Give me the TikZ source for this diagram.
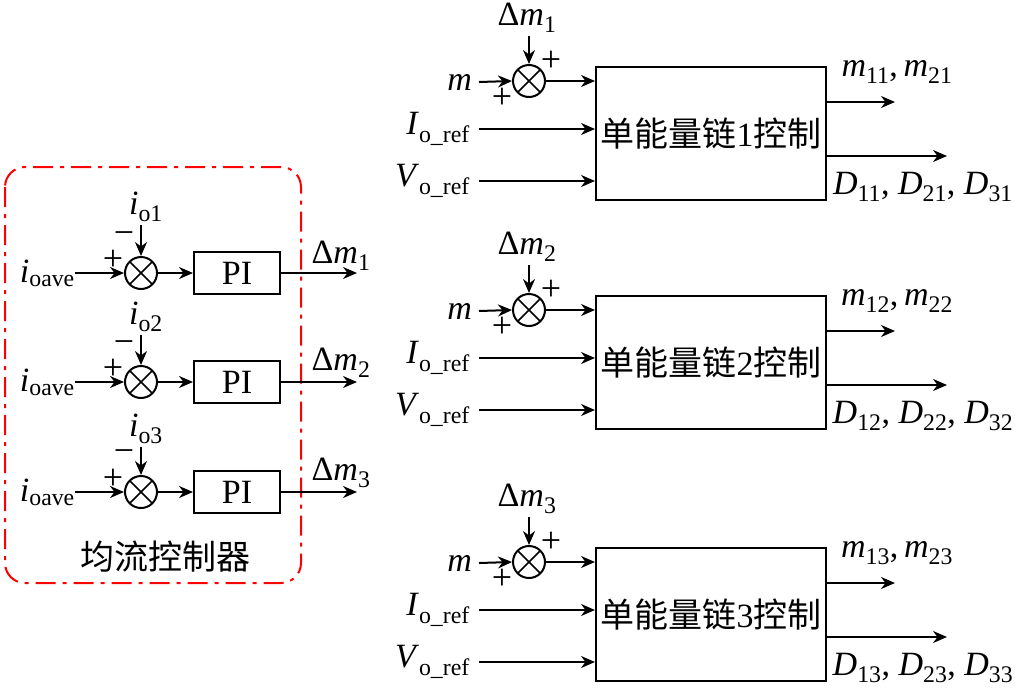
\documentclass[tikz,border=0pt]{standalone}
\usepackage{fontspec}
\setmainfont{Liberation Serif}
\newfontfamily\cjk{Noto Sans CJK SC}
\usetikzlibrary{arrows.meta, positioning}

\newcommand{\bigsz}{\fontsize{34}{38}\selectfont}

\tikzset{
	sig/.style={-{Stealth[length=14pt,width=12pt]}, line width=2pt},
	sumnode/.style={circle, draw, line width=2pt, minimum size=32pt, inner sep=0pt,
		path picture={\draw[line width=1.7pt] (path picture bounding box.north west) -- (path picture bounding box.south east)
			(path picture bounding box.north east) -- (path picture bounding box.south west);}},
	pibox/.style={draw, line width=2pt, minimum width=86pt, minimum height=42pt, inner sep=0pt, font=\bigsz},
	chainbox/.style={draw, line width=2pt, minimum width=230pt, minimum height=133pt, inner sep=0pt, font=\bigsz},
	lbl/.style={inner sep=0pt, font=\bigsz},
	sgn/.style={inner sep=0pt, font=\fontsize{36}{38}\selectfont},
}

\begin{document}
\begin{tikzpicture}[x=1pt,y=-1pt]
		\useasboundingbox (0,0) rectangle (1015,691);

		\draw[red, line width=2pt, rounded corners=20pt, dash pattern=on 20pt off 7pt on 4pt off 7pt] (5,167) rectangle (301,583);
		\node[font=\bigsz\cjk] (ctrl) at (165,557) {均流控制器};

		\node[sumnode] (sumL1) at (141,273) {};
		\node[pibox, anchor=west] (pi1) at (193,273) {PI};
		\node[lbl, anchor=east] (iave1) at (75,273) {\textit{i}\textsubscript{oave}};
		\node[lbl] (io1) at (146,207) {\textit{i}\textsubscript{o1}};
		\node[sgn] (mnL1) at (124,238) {−};
		\node[sgn] (plL1) at (113,260) {+};
		\coordinate (dmo1) at (357,273);
		\node[lbl, anchor=south] (dmL1) at (341,271) {Δ\textit{m}\textsubscript{1}};
		\draw[sig] (iave1.east) -- (sumL1.west);
		\draw[sig] ([yshift=-3pt]io1.south -| sumL1.north) -- (sumL1.north);
		\draw[sig] (sumL1.east) -- (pi1.west);
		\draw[sig] (pi1.east) -- (dmo1);

		\node[sumnode] (sumL2) at (141,382) {};
		\node[pibox, anchor=west] (pi2) at (193,382) {PI};
		\node[lbl, anchor=east] (iave2) at (75,382) {\textit{i}\textsubscript{oave}};
		\node[lbl] (io2) at (146,317) {\textit{i}\textsubscript{o2}};
		\node[sgn] (mnL2) at (124,347) {−};
		\node[sgn] (plL2) at (113,369) {+};
		\coordinate (dmo2) at (357,382);
		\node[lbl, anchor=south] (dmL2) at (341,378) {Δ\textit{m}\textsubscript{2}};
		\draw[sig] (iave2.east) -- (sumL2.west);
		\draw[sig] ([yshift=-3pt]io2.south -| sumL2.north) -- (sumL2.north);
		\draw[sig] (sumL2.east) -- (pi2.west);
		\draw[sig] (pi2.east) -- (dmo2);

		\node[sumnode] (sumL3) at (141,492) {};
		\node[pibox, anchor=west] (pi3) at (193,492) {PI};
		\node[lbl, anchor=east] (iave3) at (75,492) {\textit{i}\textsubscript{oave}};
		\node[lbl] (io3) at (146,429) {\textit{i}\textsubscript{o3}};
		\node[sgn] (mnL3) at (124,456) {−};
		\node[sgn] (plL3) at (113,479) {+};
		\coordinate (dmo3) at (357,492);
		\node[lbl, anchor=south] (dmL3) at (341,488) {Δ\textit{m}\textsubscript{3}};
		\draw[sig] (iave3.east) -- (sumL3.west);
		\draw[sig] ([yshift=-3pt]io3.south -| sumL3.north) -- (sumL3.north);
		\draw[sig] (sumL3.east) -- (pi3.west);
		\draw[sig] (pi3.east) -- (dmo3);

		\node[chainbox] (blk1) at (711,133.5) {{\cjk 单能量链}1{\cjk 控制}};
		\node[sumnode] (sumR1) at (529,81) {};
		\node[lbl, anchor=east] (mR1) at (472,82) {\textit{m}};
		\node[lbl] (dmR1) at (527,18) {Δ\textit{m}\textsubscript{1}};
		\node[sgn] (plR1a) at (551,61) {+};
		\node[sgn] (plR1b) at (502,98) {+};
		\node[lbl, anchor=east] (ioref1) at (470,129) {\textit{I}\textsubscript{o\_ref}};
		\node[lbl, anchor=east] (voref1) at (470,181) {\textit{V}\textsubscript{o\_ref}};
		\coordinate (oa1) at (895,102);
		\coordinate (ob1) at (947,156);
		\node[lbl] (mo1) at (897,72) {\textit{m}\textsubscript{11},\,\textit{m}\textsubscript{21}};
		\node[lbl] (do1) at (923,187) {\textit{D}\textsubscript{11}, \textit{D}\textsubscript{21}, \textit{D}\textsubscript{31}};
		\draw[sig] ([xshift=7pt]mR1.east) -- (sumR1.west);
		\draw[sig] ([yshift=-3pt]dmR1.south -| sumR1.north) -- (sumR1.north);
		\draw[sig] (sumR1.east) -- (sumR1.east -| blk1.west);
		\draw[sig] ([xshift=9pt]ioref1.east) -- (ioref1.east -| blk1.west);
		\draw[sig] ([xshift=9pt]voref1.east) -- (voref1.east -| blk1.west);
		\draw[sig] (blk1.east |- oa1) -- (oa1);
		\draw[sig] (blk1.east |- ob1) -- (ob1);

		\node[chainbox] (blk2) at (711,362.5) {{\cjk 单能量链}2{\cjk 控制}};
		\node[sumnode] (sumR2) at (529,310) {};
		\node[lbl, anchor=east] (mR2) at (472,311) {\textit{m}};
		\node[lbl] (dmR2) at (527,247) {Δ\textit{m}\textsubscript{2}};
		\node[sgn] (plR2a) at (551,290) {+};
		\node[sgn] (plR2b) at (502,327) {+};
		\node[lbl, anchor=east] (ioref2) at (470,358) {\textit{I}\textsubscript{o\_ref}};
		\node[lbl, anchor=east] (voref2) at (470,410) {\textit{V}\textsubscript{o\_ref}};
		\coordinate (oa2) at (895,331);
		\coordinate (ob2) at (947,385);
		\node[lbl] (mo2) at (897,301) {\textit{m}\textsubscript{12},\,\textit{m}\textsubscript{22}};
		\node[lbl] (do2) at (923,416) {\textit{D}\textsubscript{12}, \textit{D}\textsubscript{22}, \textit{D}\textsubscript{32}};
		\draw[sig] ([xshift=7pt]mR2.east) -- (sumR2.west);
		\draw[sig] ([yshift=-3pt]dmR2.south -| sumR2.north) -- (sumR2.north);
		\draw[sig] (sumR2.east) -- (sumR2.east -| blk2.west);
		\draw[sig] ([xshift=9pt]ioref2.east) -- (ioref2.east -| blk2.west);
		\draw[sig] ([xshift=9pt]voref2.east) -- (voref2.east -| blk2.west);
		\draw[sig] (blk2.east |- oa2) -- (oa2);
		\draw[sig] (blk2.east |- ob2) -- (ob2);

		\node[chainbox] (blk3) at (711,614.5) {{\cjk 单能量链}3{\cjk 控制}};
		\node[sumnode] (sumR3) at (529,562) {};
		\node[lbl, anchor=east] (mR3) at (472,563) {\textit{m}};
		\node[lbl] (dmR3) at (527,499) {Δ\textit{m}\textsubscript{3}};
		\node[sgn] (plR3a) at (551,542) {+};
		\node[sgn] (plR3b) at (502,579) {+};
		\node[lbl, anchor=east] (ioref3) at (470,610) {\textit{I}\textsubscript{o\_ref}};
		\node[lbl, anchor=east] (voref3) at (470,662) {\textit{V}\textsubscript{o\_ref}};
		\coordinate (oa3) at (895,583);
		\coordinate (ob3) at (947,637);
		\node[lbl] (mo3) at (897,553) {\textit{m}\textsubscript{13},\,\textit{m}\textsubscript{23}};
		\node[lbl] (do3) at (923,668) {\textit{D}\textsubscript{13}, \textit{D}\textsubscript{23}, \textit{D}\textsubscript{33}};
		\draw[sig] ([xshift=7pt]mR3.east) -- (sumR3.west);
		\draw[sig] ([yshift=-3pt]dmR3.south -| sumR3.north) -- (sumR3.north);
		\draw[sig] (sumR3.east) -- (sumR3.east -| blk3.west);
		\draw[sig] ([xshift=9pt]ioref3.east) -- (ioref3.east -| blk3.west);
		\draw[sig] ([xshift=9pt]voref3.east) -- (voref3.east -| blk3.west);
		\draw[sig] (blk3.east |- oa3) -- (oa3);
		\draw[sig] (blk3.east |- ob3) -- (ob3);
	\end{tikzpicture}
\end{document}
